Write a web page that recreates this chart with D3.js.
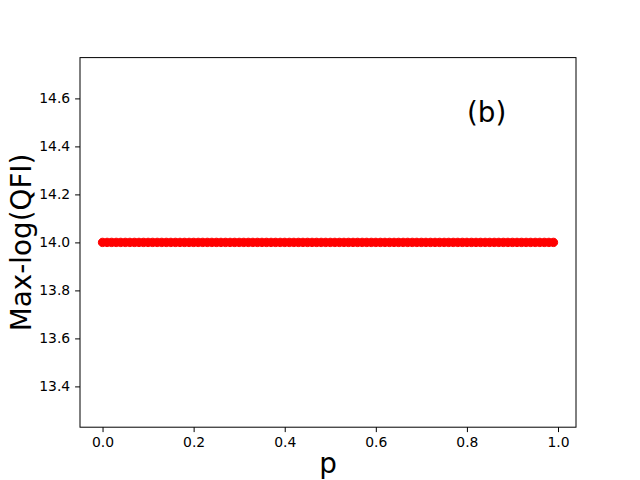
<!DOCTYPE html>
<html><head><meta charset="utf-8">
<script src="https://cdn.jsdelivr.net/npm/d3@7"></script>
<style>body{margin:0;background:#fff}svg{display:block}text{font-family:"DejaVu Sans",sans-serif;fill:#000}</style>
</head><body><svg id="c" width="640" height="480"></svg>
<script>
// data: p from 0.00 to 0.99 step 0.01, constant max-log(QFI)
const pValues = d3.range(100).map(i => +(i / 100).toFixed(2));
const qfiValues = pValues.map(() => 14.0);
const xTicks = [0.0, 0.2, 0.4, 0.6, 0.8, 1.0];
const yTicks = [13.4, 13.6, 13.8, 14.0, 14.2, 14.4, 14.6];
const xLabel = "p";
const yLabel = "Max-log(QFI)";
const panelLabel = "(b)";

const svg = d3.select("#c");
const L = 80, R = 576, T = 57.6, B = 427.2;
const x = d3.scaleLinear().domain([-0.0495, 1.0395]).range([L, R]);
const y = d3.scaleLinear().domain([13.23, 14.77]).range([B, T]);

svg.append("rect").attr("width", 640).attr("height", 480).attr("fill", "#fff");

svg.append("g").selectAll("circle").data(pValues).join("circle")
  .attr("cx", (d) => x(d)).attr("cy", (d, i) => y(qfiValues[i]))
  .attr("r", 4.2).attr("fill", "red").attr("stroke", "red").attr("stroke-width", 1);

const xa = svg.append("g").attr("transform", `translate(0,${B})`)
  .call(d3.axisBottom(x).tickValues(xTicks).tickFormat(d3.format(".1f")).tickSize(4.9).tickPadding(4.9));
const ya = svg.append("g").attr("transform", `translate(${L},0)`)
  .call(d3.axisLeft(y).tickValues(yTicks).tickFormat(d3.format(".1f")).tickSize(4.9).tickPadding(4.9));
[xa, ya].forEach(a => {
  a.select(".domain").remove();
  a.selectAll("text").style("font-size", "13.9px").style("font-family", "'DejaVu Sans', sans-serif");
  a.selectAll("line").attr("stroke", "#000").attr("stroke-width", 1);
});

svg.append("rect").attr("x", L).attr("y", T).attr("width", R - L).attr("height", B - T)
  .attr("fill", "none").attr("stroke", "#000").attr("stroke-width", 1);

svg.append("text").attr("x", (L + R) / 2).attr("y", 473).attr("text-anchor", "middle")
  .style("font-size", "27.8px").text(xLabel);
svg.append("text").attr("transform", `translate(31,${(T + B) / 2}) rotate(-90)`).attr("text-anchor", "middle")
  .style("font-size", "27.8px").text(yLabel);
svg.append("text").attr("x", x(0.8)).attr("y", y(14.5)).style("font-size", "27.8px").text(panelLabel);
</script></body></html>
